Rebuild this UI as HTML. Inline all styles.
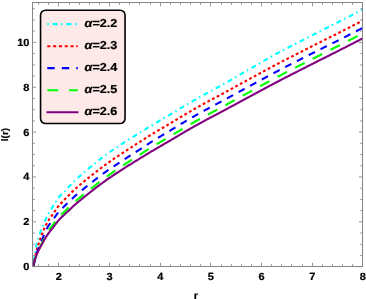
<!DOCTYPE html>
<html><head><meta charset="utf-8"><title>l(r)</title>
<style>html,body{margin:0;padding:0;background:#fff;width:366px;height:299px;overflow:hidden;font-family:"Liberation Sans",sans-serif}</style>
</head><body>
<svg width="366" height="299" viewBox="0 0 366 299" style="position:absolute;left:0;top:0">
<rect width="366" height="299" fill="#fff"/>
<defs><clipPath id="c"><rect x="32.5" y="2.5" width="330.6" height="264.0"/></clipPath></defs>
<g clip-path="url(#c)" fill="none" stroke-width="2.1">
<path d="M33.30 266.40 L33.39 265.66 L33.48 264.92 L33.57 264.18 L33.66 263.44 L33.75 262.71 L33.84 261.97 L33.93 261.25 L34.01 260.53 L34.10 259.81 L34.28 258.40 L34.46 257.01 L34.64 255.66 L34.82 254.34 L35.00 253.06 L35.18 251.83 L35.35 250.65 L35.53 249.53 L35.71 248.47 L35.89 247.47 L36.07 246.53 L36.25 245.68 L36.43 244.89 L36.60 244.14 L36.78 243.42 L36.96 242.72 L37.14 242.03 L37.32 241.37 L37.50 240.72 L37.68 240.09 L37.94 239.18 L38.21 238.30 L38.48 237.45 L38.75 236.63 L39.02 235.83 L39.28 235.05 L39.55 234.28 L39.82 233.54 L40.09 232.80 L40.35 232.07 L40.62 231.35 L40.89 230.64 L41.16 229.94 L41.43 229.25 L41.69 228.56 L41.96 227.89 L42.23 227.22 L42.50 226.56 L42.77 225.90 L43.03 225.25 L43.30 224.61 L43.57 223.97 L43.84 223.34 L44.11 222.72 L44.37 222.10 L44.64 221.49 L44.91 220.89 L45.18 220.29 L45.44 219.70 L45.71 219.12 L45.98 218.55 L46.25 217.98 L46.52 217.42 L46.78 216.87 L47.05 216.33 L47.32 215.80 L47.68 215.10 L48.03 214.41 L48.39 213.74 L48.75 213.10 L49.11 212.46 L49.46 211.85 L49.82 211.25 L50.18 210.66 L50.53 210.09 L50.89 209.52 L51.25 208.96 L51.61 208.40 L51.96 207.85 L52.32 207.30 L52.68 206.75 L53.03 206.20 L53.39 205.65 L53.75 205.09 L54.11 204.52 L54.46 203.95 L54.82 203.38 L55.18 202.80 L55.54 202.23 L55.89 201.66 L56.25 201.09 L56.61 200.53 L56.96 199.98 L57.32 199.45 L57.68 198.93 L58.04 198.42 L58.39 197.93 L58.75 197.47 L59.11 197.02 L59.55 196.49 L60.00 195.98 L60.76 195.14 L61.52 194.34 L62.29 193.56 L63.05 192.79 L63.81 192.02 L64.57 191.25 L65.33 190.46 L66.10 189.67 L66.86 188.87 L67.62 188.08 L68.38 187.28 L69.14 186.49 L69.90 185.70 L70.67 184.91 L71.43 184.13 L72.19 183.35 L72.95 182.58 L73.71 181.83 L74.48 181.08 L75.24 180.34 L76.00 179.61 L76.76 178.90 L77.52 178.19 L78.29 177.49 L79.05 176.80 L79.81 176.12 L80.57 175.44 L81.33 174.77 L82.10 174.11 L82.86 173.45 L83.62 172.80 L84.38 172.14 L85.14 171.49 L85.90 170.85 L86.67 170.20 L87.43 169.56 L88.19 168.91 L88.95 168.27 L89.71 167.63 L90.48 166.99 L91.24 166.36 L92.00 165.72 L92.76 165.10 L93.52 164.47 L94.29 163.85 L95.05 163.23 L95.81 162.61 L96.57 162.00 L97.33 161.39 L98.10 160.79 L98.86 160.19 L99.62 159.59 L100.38 159.00 L101.14 158.42 L101.90 157.83 L102.67 157.25 L103.43 156.68 L104.19 156.11 L104.95 155.54 L105.71 154.98 L106.48 154.42 L107.24 153.87 L108.00 153.32 L108.76 152.77 L109.52 152.23 L110.29 151.70 L111.05 151.17 L111.81 150.65 L112.57 150.13 L113.33 149.62 L114.10 149.11 L114.86 148.60 L115.62 148.09 L116.38 147.59 L117.14 147.09 L117.90 146.59 L118.67 146.09 L119.43 145.59 L120.19 145.10 L120.95 144.60 L121.71 144.11 L122.48 143.62 L123.24 143.13 L124.00 142.65 L124.76 142.16 L125.52 141.68 L126.29 141.19 L127.05 140.71 L127.81 140.23 L128.57 139.74 L129.33 139.26 L130.10 138.78 L130.86 138.30 L131.62 137.83 L132.38 137.35 L133.14 136.87 L133.90 136.40 L134.67 135.92 L135.43 135.44 L136.19 134.97 L136.95 134.50 L137.71 134.02 L138.48 133.55 L139.24 133.08 L140.00 132.61 L140.76 132.14 L141.52 131.66 L142.29 131.19 L143.05 130.72 L143.81 130.25 L144.57 129.78 L145.33 129.31 L146.10 128.84 L146.86 128.38 L147.62 127.91 L148.38 127.44 L149.14 126.98 L149.90 126.52 L150.67 126.05 L151.43 125.59 L152.19 125.14 L152.95 124.68 L153.71 124.23 L154.48 123.77 L155.24 123.32 L156.00 122.87 L156.76 122.42 L157.52 121.98 L158.29 121.53 L159.05 121.08 L159.81 120.64 L160.57 120.19 L161.33 119.75 L162.10 119.30 L162.86 118.86 L163.62 118.41 L164.38 117.97 L165.14 117.52 L165.90 117.08 L166.67 116.63 L167.43 116.18 L168.19 115.73 L168.95 115.28 L169.71 114.82 L170.48 114.37 L171.24 113.91 L172.00 113.46 L172.76 113.00 L173.52 112.54 L174.29 112.09 L175.05 111.63 L175.81 111.17 L176.57 110.71 L177.33 110.25 L178.10 109.79 L178.86 109.33 L179.62 108.87 L180.38 108.42 L181.14 107.96 L181.90 107.50 L182.67 107.04 L183.43 106.59 L184.19 106.13 L184.95 105.68 L185.71 105.22 L186.48 104.77 L187.24 104.32 L188.00 103.87 L188.76 103.42 L189.52 102.98 L190.29 102.53 L191.05 102.09 L191.81 101.65 L192.57 101.21 L193.33 100.77 L194.10 100.34 L194.86 99.90 L195.62 99.47 L196.38 99.04 L197.14 98.61 L197.90 98.18 L198.67 97.75 L199.43 97.32 L200.19 96.89 L200.95 96.47 L201.71 96.04 L202.48 95.62 L203.24 95.19 L204.00 94.77 L204.76 94.35 L205.52 93.93 L206.29 93.51 L207.05 93.09 L207.81 92.67 L208.57 92.25 L209.33 91.84 L210.10 91.43 L210.86 91.01 L211.62 90.60 L212.38 90.20 L213.14 89.79 L213.90 89.38 L214.67 88.97 L215.43 88.57 L216.19 88.16 L216.95 87.75 L217.71 87.34 L218.48 86.93 L219.24 86.52 L220.00 86.10 L220.76 85.68 L221.52 85.26 L222.29 84.84 L223.05 84.42 L223.81 83.99 L224.57 83.57 L225.33 83.14 L226.10 82.71 L226.86 82.28 L227.62 81.85 L228.38 81.41 L229.14 80.98 L229.90 80.54 L230.67 80.10 L231.43 79.66 L232.19 79.22 L232.95 78.78 L233.71 78.34 L234.48 77.90 L235.24 77.46 L236.00 77.02 L236.76 76.57 L237.52 76.13 L238.29 75.68 L239.05 75.24 L239.81 74.79 L240.57 74.35 L241.33 73.90 L242.10 73.45 L242.86 73.01 L243.62 72.56 L244.38 72.12 L245.14 71.67 L245.90 71.22 L246.67 70.78 L247.43 70.33 L248.19 69.89 L248.95 69.45 L249.71 69.00 L250.48 68.56 L251.24 68.12 L252.00 67.67 L252.76 67.23 L253.52 66.79 L254.29 66.35 L255.05 65.90 L255.81 65.46 L256.57 65.02 L257.33 64.58 L258.10 64.14 L258.86 63.70 L259.62 63.26 L260.38 62.82 L261.14 62.38 L261.90 61.94 L262.67 61.50 L263.43 61.07 L264.19 60.63 L264.95 60.20 L265.71 59.76 L266.48 59.33 L267.24 58.90 L268.00 58.47 L268.76 58.04 L269.52 57.61 L270.29 57.19 L271.05 56.76 L271.81 56.34 L272.57 55.92 L273.33 55.50 L274.10 55.08 L274.86 54.66 L275.62 54.25 L276.38 53.84 L277.14 53.42 L277.90 53.01 L278.67 52.61 L279.43 52.20 L280.19 51.80 L280.95 51.40 L281.71 51.00 L282.48 50.60 L283.24 50.20 L284.00 49.80 L284.76 49.40 L285.52 49.00 L286.29 48.60 L287.05 48.21 L287.81 47.81 L288.57 47.42 L289.33 47.02 L290.10 46.63 L290.86 46.23 L291.62 45.84 L292.38 45.45 L293.14 45.05 L293.90 44.66 L294.67 44.27 L295.43 43.88 L296.19 43.49 L296.95 43.10 L297.71 42.71 L298.48 42.32 L299.24 41.93 L300.00 41.54 L300.76 41.15 L301.52 40.76 L302.29 40.37 L303.05 39.98 L303.81 39.59 L304.57 39.20 L305.33 38.81 L306.10 38.42 L306.86 38.03 L307.62 37.64 L308.38 37.25 L309.14 36.86 L309.90 36.48 L310.67 36.09 L311.43 35.70 L312.19 35.31 L312.95 34.92 L313.71 34.53 L314.48 34.15 L315.24 33.76 L316.00 33.37 L316.76 32.98 L317.52 32.60 L318.29 32.21 L319.05 31.83 L319.81 31.44 L320.57 31.06 L321.33 30.67 L322.10 30.29 L322.86 29.90 L323.62 29.52 L324.38 29.13 L325.14 28.75 L325.90 28.36 L326.67 27.98 L327.43 27.59 L328.19 27.21 L328.95 26.82 L329.71 26.44 L330.48 26.05 L331.24 25.67 L332.00 25.28 L332.76 24.90 L333.52 24.51 L334.29 24.13 L335.05 23.74 L335.81 23.35 L336.57 22.97 L337.33 22.58 L338.10 22.19 L338.86 21.81 L339.62 21.42 L340.38 21.03 L341.14 20.64 L341.90 20.25 L342.67 19.86 L343.43 19.48 L344.19 19.09 L344.95 18.70 L345.71 18.31 L346.48 17.92 L347.24 17.53 L348.00 17.14 L348.76 16.75 L349.52 16.36 L350.29 15.97 L351.05 15.58 L351.81 15.19 L352.57 14.79 L353.33 14.40 L354.10 14.01 L354.86 13.62 L355.62 13.23 L356.38 12.84 L357.14 12.45 L357.90 12.06 L358.67 11.67 L359.43 11.28 L360.19 10.89 L360.95 10.49 L361.71 10.10 L362.48 9.71 L363.24 9.32 L364.00 8.93 L364.00 8.93" stroke="#00ffff" stroke-dasharray="1.5 3.8 5 3.45" stroke-dashoffset="0"/>
<path d="M33.30 266.40 L33.48 265.40 L33.66 264.42 L33.84 263.44 L34.01 262.48 L34.19 261.53 L34.37 260.59 L34.55 259.67 L34.73 258.76 L34.91 257.88 L35.09 257.01 L35.26 256.16 L35.44 255.33 L35.62 254.52 L35.80 253.74 L35.98 252.98 L36.16 252.25 L36.34 251.54 L36.51 250.85 L36.69 250.18 L36.87 249.52 L37.05 248.88 L37.23 248.26 L37.50 247.35 L37.76 246.47 L38.03 245.61 L38.30 244.79 L38.57 243.98 L38.84 243.19 L39.10 242.40 L39.37 241.62 L39.64 240.85 L39.91 240.08 L40.18 239.31 L40.44 238.54 L40.71 237.77 L40.98 237.02 L41.25 236.26 L41.52 235.52 L41.78 234.79 L42.05 234.06 L42.32 233.35 L42.59 232.64 L42.85 231.95 L43.12 231.27 L43.39 230.60 L43.66 229.94 L43.93 229.30 L44.19 228.67 L44.46 228.05 L44.73 227.46 L45.00 226.87 L45.27 226.31 L45.53 225.76 L45.89 225.06 L46.25 224.39 L46.61 223.73 L46.96 223.08 L47.32 222.45 L47.68 221.83 L48.03 221.22 L48.39 220.63 L48.75 220.06 L49.11 219.50 L49.46 218.96 L49.82 218.43 L50.18 217.91 L50.53 217.40 L50.89 216.90 L51.25 216.40 L51.61 215.91 L51.96 215.42 L52.32 214.92 L52.68 214.43 L53.03 213.93 L53.39 213.42 L53.75 212.91 L54.11 212.39 L54.46 211.87 L54.82 211.33 L55.18 210.80 L55.54 210.27 L55.89 209.74 L56.25 209.21 L56.61 208.69 L56.96 208.17 L57.32 207.66 L57.68 207.17 L58.04 206.69 L58.39 206.23 L58.75 205.78 L59.20 205.24 L59.64 204.72 L60.76 203.49 L61.52 202.69 L62.29 201.91 L63.05 201.14 L63.81 200.38 L64.57 199.61 L65.33 198.83 L66.10 198.04 L66.86 197.26 L67.62 196.47 L68.38 195.69 L69.14 194.91 L69.90 194.13 L70.67 193.37 L71.43 192.61 L72.19 191.85 L72.95 191.11 L73.71 190.38 L74.48 189.67 L75.24 188.96 L76.00 188.27 L76.76 187.60 L77.52 186.93 L78.29 186.26 L79.05 185.61 L79.81 184.96 L80.57 184.32 L81.33 183.69 L82.10 183.05 L82.86 182.43 L83.62 181.81 L84.38 181.19 L85.14 180.57 L85.90 179.95 L86.67 179.34 L87.43 178.72 L88.19 178.11 L88.95 177.49 L89.71 176.88 L90.48 176.27 L91.24 175.66 L92.00 175.05 L92.76 174.45 L93.52 173.84 L94.29 173.24 L95.05 172.65 L95.81 172.05 L96.57 171.46 L97.33 170.87 L98.10 170.28 L98.86 169.70 L99.62 169.12 L100.38 168.54 L101.14 167.97 L101.90 167.40 L102.67 166.83 L103.43 166.26 L104.19 165.70 L104.95 165.14 L105.71 164.58 L106.48 164.02 L107.24 163.47 L108.00 162.92 L108.76 162.38 L109.52 161.84 L110.29 161.30 L111.05 160.77 L111.81 160.24 L112.57 159.71 L113.33 159.19 L114.10 158.68 L114.86 158.16 L115.62 157.65 L116.38 157.14 L117.14 156.63 L117.90 156.11 L118.67 155.61 L119.43 155.10 L120.19 154.59 L120.95 154.09 L121.71 153.58 L122.48 153.08 L123.24 152.58 L124.00 152.08 L124.76 151.59 L125.52 151.09 L126.29 150.59 L127.05 150.09 L127.81 149.60 L128.57 149.10 L129.33 148.61 L130.10 148.12 L130.86 147.62 L131.62 147.13 L132.38 146.64 L133.14 146.15 L133.90 145.66 L134.67 145.17 L135.43 144.68 L136.19 144.19 L136.95 143.70 L137.71 143.22 L138.48 142.73 L139.24 142.24 L140.00 141.76 L140.76 141.27 L141.52 140.79 L142.29 140.30 L143.05 139.82 L143.81 139.34 L144.57 138.85 L145.33 138.37 L146.10 137.89 L146.86 137.41 L147.62 136.93 L148.38 136.46 L149.14 135.98 L149.90 135.51 L150.67 135.04 L151.43 134.57 L152.19 134.10 L152.95 133.64 L153.71 133.17 L154.48 132.71 L155.24 132.26 L156.00 131.80 L156.76 131.34 L157.52 130.89 L158.29 130.44 L159.05 129.99 L159.81 129.54 L160.57 129.09 L161.33 128.64 L162.10 128.20 L162.86 127.75 L163.62 127.30 L164.38 126.85 L165.14 126.40 L165.90 125.95 L166.67 125.50 L167.43 125.05 L168.19 124.60 L168.95 124.14 L169.71 123.69 L170.48 123.23 L171.24 122.77 L172.00 122.32 L172.76 121.86 L173.52 121.40 L174.29 120.94 L175.05 120.48 L175.81 120.02 L176.57 119.56 L177.33 119.10 L178.10 118.64 L178.86 118.18 L179.62 117.72 L180.38 117.26 L181.14 116.80 L181.90 116.34 L182.67 115.89 L183.43 115.43 L184.19 114.98 L184.95 114.52 L185.71 114.07 L186.48 113.62 L187.24 113.17 L188.00 112.72 L188.76 112.27 L189.52 111.83 L190.29 111.38 L191.05 110.94 L191.81 110.50 L192.57 110.06 L193.33 109.63 L194.10 109.19 L194.86 108.76 L195.62 108.33 L196.38 107.90 L197.14 107.47 L197.90 107.04 L198.67 106.62 L199.43 106.19 L200.19 105.77 L200.95 105.34 L201.71 104.92 L202.48 104.50 L203.24 104.08 L204.00 103.66 L204.76 103.24 L205.52 102.83 L206.29 102.41 L207.05 102.00 L207.81 101.58 L208.57 101.17 L209.33 100.76 L210.10 100.35 L210.86 99.94 L211.62 99.54 L212.38 99.13 L213.14 98.73 L213.90 98.33 L214.67 97.93 L215.43 97.53 L216.19 97.13 L216.95 96.72 L217.71 96.32 L218.48 95.91 L219.24 95.51 L220.00 95.10 L220.76 94.69 L221.52 94.28 L222.29 93.87 L223.05 93.46 L223.81 93.04 L224.57 92.63 L225.33 92.21 L226.10 91.80 L226.86 91.38 L227.62 90.97 L228.38 90.55 L229.14 90.13 L229.90 89.72 L230.67 89.30 L231.43 88.88 L232.19 88.46 L232.95 88.05 L233.71 87.63 L234.48 87.21 L235.24 86.79 L236.00 86.37 L236.76 85.95 L237.52 85.53 L238.29 85.11 L239.05 84.69 L239.81 84.28 L240.57 83.86 L241.33 83.44 L242.10 83.02 L242.86 82.60 L243.62 82.18 L244.38 81.77 L245.14 81.35 L245.90 80.93 L246.67 80.52 L247.43 80.10 L248.19 79.69 L248.95 79.27 L249.71 78.86 L250.48 78.44 L251.24 78.03 L252.00 77.62 L252.76 77.20 L253.52 76.79 L254.29 76.38 L255.05 75.96 L255.81 75.55 L256.57 75.14 L257.33 74.72 L258.10 74.31 L258.86 73.89 L259.62 73.48 L260.38 73.07 L261.14 72.66 L261.90 72.24 L262.67 71.83 L263.43 71.42 L264.19 71.01 L264.95 70.60 L265.71 70.19 L266.48 69.78 L267.24 69.37 L268.00 68.96 L268.76 68.55 L269.52 68.14 L270.29 67.73 L271.05 67.33 L271.81 66.92 L272.57 66.51 L273.33 66.11 L274.10 65.71 L274.86 65.30 L275.62 64.90 L276.38 64.50 L277.14 64.10 L277.90 63.70 L278.67 63.30 L279.43 62.90 L280.19 62.50 L280.95 62.10 L281.71 61.71 L282.48 61.31 L283.24 60.92 L284.00 60.52 L284.76 60.13 L285.52 59.74 L286.29 59.35 L287.05 58.95 L287.81 58.56 L288.57 58.17 L289.33 57.78 L290.10 57.39 L290.86 57.00 L291.62 56.62 L292.38 56.23 L293.14 55.84 L293.90 55.45 L294.67 55.06 L295.43 54.68 L296.19 54.29 L296.95 53.90 L297.71 53.52 L298.48 53.13 L299.24 52.75 L300.00 52.36 L300.76 51.97 L301.52 51.59 L302.29 51.20 L303.05 50.82 L303.81 50.43 L304.57 50.05 L305.33 49.66 L306.10 49.28 L306.86 48.89 L307.62 48.51 L308.38 48.12 L309.14 47.73 L309.90 47.35 L310.67 46.96 L311.43 46.58 L312.19 46.19 L312.95 45.81 L313.71 45.42 L314.48 45.04 L315.24 44.65 L316.00 44.27 L316.76 43.89 L317.52 43.50 L318.29 43.12 L319.05 42.74 L319.81 42.36 L320.57 41.97 L321.33 41.59 L322.10 41.21 L322.86 40.83 L323.62 40.45 L324.38 40.06 L325.14 39.68 L325.90 39.30 L326.67 38.92 L327.43 38.53 L328.19 38.15 L328.95 37.77 L329.71 37.39 L330.48 37.00 L331.24 36.62 L332.00 36.24 L332.76 35.86 L333.52 35.47 L334.29 35.09 L335.05 34.70 L335.81 34.32 L336.57 33.94 L337.33 33.55 L338.10 33.17 L338.86 32.78 L339.62 32.39 L340.38 32.01 L341.14 31.62 L341.90 31.23 L342.67 30.85 L343.43 30.46 L344.19 30.07 L344.95 29.68 L345.71 29.29 L346.48 28.90 L347.24 28.52 L348.00 28.13 L348.76 27.74 L349.52 27.35 L350.29 26.96 L351.05 26.57 L351.81 26.18 L352.57 25.79 L353.33 25.40 L354.10 25.01 L354.86 24.62 L355.62 24.23 L356.38 23.84 L357.14 23.45 L357.90 23.06 L358.67 22.67 L359.43 22.28 L360.19 21.88 L360.95 21.49 L361.71 21.10 L362.48 20.71 L363.24 20.32 L364.00 19.93 L364.00 19.93" stroke="#ff0000" stroke-dasharray="2.8 2.48" stroke-dashoffset="4.68"/>
<path d="M33.30 266.40 L33.48 265.60 L33.66 264.81 L33.84 264.02 L34.01 263.24 L34.19 262.48 L34.37 261.73 L34.55 260.99 L34.73 260.26 L34.91 259.55 L35.09 258.85 L35.26 258.17 L35.44 257.51 L35.62 256.86 L35.80 256.24 L36.07 255.34 L36.34 254.49 L36.60 253.68 L36.87 252.90 L37.14 252.13 L37.41 251.40 L37.68 250.68 L37.94 249.98 L38.21 249.30 L38.48 248.63 L38.75 247.97 L39.02 247.32 L39.28 246.67 L39.55 246.04 L39.82 245.40 L40.09 244.76 L40.35 244.11 L40.62 243.45 L40.89 242.79 L41.16 242.12 L41.43 241.45 L41.69 240.78 L41.96 240.11 L42.23 239.43 L42.50 238.76 L42.77 238.09 L43.03 237.42 L43.30 236.75 L43.57 236.09 L43.84 235.44 L44.11 234.78 L44.37 234.14 L44.64 233.51 L44.91 232.88 L45.18 232.26 L45.44 231.66 L45.71 231.06 L45.98 230.48 L46.25 229.91 L46.52 229.36 L46.78 228.82 L47.14 228.12 L47.50 227.46 L47.86 226.83 L48.21 226.24 L48.57 225.69 L48.93 225.16 L49.28 224.65 L49.64 224.14 L50.00 223.65 L50.36 223.17 L50.71 222.69 L51.07 222.22 L51.43 221.75 L51.78 221.28 L52.14 220.82 L52.50 220.35 L52.86 219.87 L53.21 219.39 L53.57 218.90 L53.93 218.41 L54.28 217.90 L54.64 217.39 L55.00 216.88 L55.36 216.37 L55.71 215.85 L56.07 215.34 L56.43 214.83 L56.79 214.33 L57.14 213.84 L57.50 213.36 L57.86 212.89 L58.21 212.43 L58.66 211.89 L59.11 211.37 L59.55 210.88 L60.00 210.40 L60.76 209.61 L61.52 208.86 L62.29 208.13 L63.05 207.42 L63.81 206.71 L64.57 206.00 L65.33 205.27 L66.10 204.54 L66.86 203.81 L67.62 203.07 L68.38 202.33 L69.14 201.60 L69.90 200.86 L70.67 200.13 L71.43 199.41 L72.19 198.69 L72.95 197.97 L73.71 197.27 L74.48 196.57 L75.24 195.89 L76.00 195.21 L76.76 194.54 L77.52 193.89 L78.29 193.24 L79.05 192.60 L79.81 191.96 L80.57 191.33 L81.33 190.71 L82.10 190.09 L82.86 189.47 L83.62 188.86 L84.38 188.24 L85.14 187.64 L85.90 187.03 L86.67 186.42 L87.43 185.81 L88.19 185.21 L88.95 184.60 L89.71 183.99 L90.48 183.39 L91.24 182.79 L92.00 182.18 L92.76 181.59 L93.52 180.99 L94.29 180.39 L95.05 179.80 L95.81 179.21 L96.57 178.63 L97.33 178.04 L98.10 177.46 L98.86 176.89 L99.62 176.31 L100.38 175.74 L101.14 175.18 L101.90 174.61 L102.67 174.05 L103.43 173.49 L104.19 172.93 L104.95 172.38 L105.71 171.83 L106.48 171.28 L107.24 170.74 L108.00 170.20 L108.76 169.66 L109.52 169.13 L110.29 168.60 L111.05 168.08 L111.81 167.56 L112.57 167.05 L113.33 166.54 L114.10 166.03 L114.86 165.53 L115.62 165.03 L116.38 164.53 L117.14 164.03 L117.90 163.53 L118.67 163.03 L119.43 162.53 L120.19 162.04 L120.95 161.55 L121.71 161.05 L122.48 160.56 L123.24 160.08 L124.00 159.59 L124.76 159.10 L125.52 158.61 L126.29 158.13 L127.05 157.64 L127.81 157.15 L128.57 156.67 L129.33 156.18 L130.10 155.69 L130.86 155.20 L131.62 154.71 L132.38 154.22 L133.14 153.72 L133.90 153.23 L134.67 152.74 L135.43 152.24 L136.19 151.75 L136.95 151.25 L137.71 150.76 L138.48 150.26 L139.24 149.76 L140.00 149.27 L140.76 148.77 L141.52 148.28 L142.29 147.78 L143.05 147.28 L143.81 146.78 L144.57 146.29 L145.33 145.79 L146.10 145.30 L146.86 144.80 L147.62 144.31 L148.38 143.82 L149.14 143.33 L149.90 142.84 L150.67 142.36 L151.43 141.88 L152.19 141.40 L152.95 140.92 L153.71 140.44 L154.48 139.97 L155.24 139.50 L156.00 139.04 L156.76 138.57 L157.52 138.11 L158.29 137.65 L159.05 137.20 L159.81 136.74 L160.57 136.29 L161.33 135.84 L162.10 135.38 L162.86 134.93 L163.62 134.48 L164.38 134.03 L165.14 133.57 L165.90 133.12 L166.67 132.67 L167.43 132.21 L168.19 131.75 L168.95 131.30 L169.71 130.84 L170.48 130.38 L171.24 129.92 L172.00 129.46 L172.76 128.99 L173.52 128.53 L174.29 128.07 L175.05 127.61 L175.81 127.15 L176.57 126.68 L177.33 126.22 L178.10 125.76 L178.86 125.30 L179.62 124.84 L180.38 124.37 L181.14 123.91 L181.90 123.46 L182.67 123.00 L183.43 122.54 L184.19 122.08 L184.95 121.63 L185.71 121.17 L186.48 120.72 L187.24 120.27 L188.00 119.82 L188.76 119.38 L189.52 118.93 L190.29 118.49 L191.05 118.05 L191.81 117.61 L192.57 117.17 L193.33 116.74 L194.10 116.30 L194.86 115.87 L195.62 115.44 L196.38 115.01 L197.14 114.58 L197.90 114.16 L198.67 113.73 L199.43 113.31 L200.19 112.88 L200.95 112.46 L201.71 112.04 L202.48 111.62 L203.24 111.20 L204.00 110.78 L204.76 110.37 L205.52 109.95 L206.29 109.53 L207.05 109.12 L207.81 108.71 L208.57 108.29 L209.33 107.88 L210.10 107.48 L210.86 107.07 L211.62 106.67 L212.38 106.26 L213.14 105.86 L213.90 105.46 L214.67 105.06 L215.43 104.66 L216.19 104.26 L216.95 103.86 L217.71 103.45 L218.48 103.05 L219.24 102.64 L220.00 102.24 L220.76 101.83 L221.52 101.42 L222.29 101.01 L223.05 100.59 L223.81 100.18 L224.57 99.77 L225.33 99.36 L226.10 98.94 L226.86 98.53 L227.62 98.11 L228.38 97.70 L229.14 97.28 L229.90 96.87 L230.67 96.45 L231.43 96.04 L232.19 95.62 L232.95 95.20 L233.71 94.79 L234.48 94.37 L235.24 93.95 L236.00 93.53 L236.76 93.12 L237.52 92.70 L238.29 92.28 L239.05 91.86 L239.81 91.45 L240.57 91.03 L241.33 90.61 L242.10 90.20 L242.86 89.78 L243.62 89.37 L244.38 88.95 L245.14 88.54 L245.90 88.12 L246.67 87.71 L247.43 87.29 L248.19 86.88 L248.95 86.47 L249.71 86.05 L250.48 85.64 L251.24 85.23 L252.00 84.82 L252.76 84.41 L253.52 83.99 L254.29 83.58 L255.05 83.17 L255.81 82.76 L256.57 82.34 L257.33 81.93 L258.10 81.52 L258.86 81.11 L259.62 80.70 L260.38 80.28 L261.14 79.87 L261.90 79.46 L262.67 79.05 L263.43 78.64 L264.19 78.23 L264.95 77.82 L265.71 77.41 L266.48 77.00 L267.24 76.59 L268.00 76.18 L268.76 75.77 L269.52 75.36 L270.29 74.96 L271.05 74.55 L271.81 74.14 L272.57 73.74 L273.33 73.33 L274.10 72.93 L274.86 72.52 L275.62 72.12 L276.38 71.72 L277.14 71.32 L277.90 70.92 L278.67 70.52 L279.43 70.12 L280.19 69.72 L280.95 69.32 L281.71 68.92 L282.48 68.53 L283.24 68.13 L284.00 67.74 L284.76 67.34 L285.52 66.95 L286.29 66.55 L287.05 66.16 L287.81 65.77 L288.57 65.38 L289.33 64.99 L290.10 64.60 L290.86 64.21 L291.62 63.82 L292.38 63.43 L293.14 63.04 L293.90 62.65 L294.67 62.27 L295.43 61.88 L296.19 61.49 L296.95 61.10 L297.71 60.72 L298.48 60.33 L299.24 59.95 L300.00 59.56 L300.76 59.17 L301.52 58.79 L302.29 58.40 L303.05 58.02 L303.81 57.63 L304.57 57.25 L305.33 56.86 L306.10 56.48 L306.86 56.09 L307.62 55.71 L308.38 55.32 L309.14 54.94 L309.90 54.55 L310.67 54.17 L311.43 53.78 L312.19 53.40 L312.95 53.02 L313.71 52.63 L314.48 52.25 L315.24 51.87 L316.00 51.48 L316.76 51.10 L317.52 50.72 L318.29 50.34 L319.05 49.96 L319.81 49.58 L320.57 49.20 L321.33 48.81 L322.10 48.43 L322.86 48.05 L323.62 47.67 L324.38 47.29 L325.14 46.91 L325.90 46.53 L326.67 46.15 L327.43 45.77 L328.19 45.39 L328.95 45.01 L329.71 44.63 L330.48 44.25 L331.24 43.87 L332.00 43.49 L332.76 43.11 L333.52 42.73 L334.29 42.35 L335.05 41.96 L335.81 41.58 L336.57 41.20 L337.33 40.82 L338.10 40.44 L338.86 40.05 L339.62 39.67 L340.38 39.29 L341.14 38.90 L341.90 38.52 L342.67 38.13 L343.43 37.75 L344.19 37.36 L344.95 36.98 L345.71 36.59 L346.48 36.21 L347.24 35.82 L348.00 35.44 L348.76 35.05 L349.52 34.67 L350.29 34.28 L351.05 33.89 L351.81 33.51 L352.57 33.12 L353.33 32.73 L354.10 32.35 L354.86 31.96 L355.62 31.57 L356.38 31.19 L357.14 30.80 L357.90 30.41 L358.67 30.03 L359.43 29.64 L360.19 29.25 L360.95 28.87 L361.71 28.48 L362.48 28.09 L363.24 27.71 L364.00 27.32 L364.00 27.32" stroke="#0000ff" stroke-dasharray="7.0 6.22" stroke-dashoffset="0"/>
<path d="M33.30 266.40 L33.48 265.65 L33.66 264.91 L33.84 264.18 L34.01 263.46 L34.19 262.75 L34.37 262.05 L34.55 261.36 L34.73 260.69 L34.91 260.03 L35.09 259.39 L35.26 258.76 L35.53 257.86 L35.80 257.00 L36.07 256.19 L36.34 255.42 L36.60 254.69 L36.87 253.99 L37.14 253.32 L37.41 252.67 L37.68 252.03 L37.94 251.42 L38.21 250.83 L38.48 250.25 L38.75 249.68 L39.02 249.12 L39.28 248.56 L39.55 248.01 L39.82 247.47 L40.09 246.92 L40.35 246.37 L40.62 245.82 L40.89 245.28 L41.16 244.73 L41.43 244.19 L41.69 243.64 L41.96 243.10 L42.23 242.55 L42.50 242.01 L42.77 241.46 L43.03 240.92 L43.30 240.38 L43.57 239.85 L43.84 239.31 L44.19 238.60 L44.55 237.90 L44.91 237.21 L45.27 236.52 L45.62 235.84 L45.98 235.17 L46.34 234.51 L46.69 233.86 L47.05 233.23 L47.41 232.61 L47.77 232.00 L48.12 231.40 L48.48 230.83 L48.84 230.27 L49.19 229.74 L49.55 229.22 L49.91 228.72 L50.27 228.24 L50.62 227.77 L50.98 227.31 L51.34 226.86 L51.70 226.41 L52.05 225.97 L52.41 225.52 L52.77 225.06 L53.12 224.60 L53.48 224.14 L53.84 223.66 L54.20 223.17 L54.55 222.68 L54.91 222.19 L55.27 221.69 L55.62 221.19 L55.98 220.69 L56.34 220.20 L56.70 219.71 L57.05 219.23 L57.41 218.76 L57.77 218.30 L58.12 217.85 L58.57 217.32 L59.02 216.82 L59.46 216.33 L59.91 215.87 L60.76 215.02 L61.52 214.29 L62.29 213.59 L63.05 212.89 L63.81 212.20 L64.57 211.50 L65.33 210.78 L66.10 210.05 L66.86 209.32 L67.62 208.60 L68.38 207.87 L69.14 207.14 L69.90 206.41 L70.67 205.69 L71.43 204.97 L72.19 204.25 L72.95 203.54 L73.71 202.84 L74.48 202.15 L75.24 201.47 L76.00 200.80 L76.76 200.14 L77.52 199.49 L78.29 198.84 L79.05 198.20 L79.81 197.57 L80.57 196.94 L81.33 196.32 L82.10 195.71 L82.86 195.09 L83.62 194.48 L84.38 193.87 L85.14 193.27 L85.90 192.66 L86.67 192.06 L87.43 191.45 L88.19 190.85 L88.95 190.24 L89.71 189.64 L90.48 189.04 L91.24 188.44 L92.00 187.84 L92.76 187.24 L93.52 186.64 L94.29 186.05 L95.05 185.46 L95.81 184.86 L96.57 184.27 L97.33 183.68 L98.10 183.10 L98.86 182.52 L99.62 181.93 L100.38 181.36 L101.14 180.78 L101.90 180.21 L102.67 179.63 L103.43 179.06 L104.19 178.50 L104.95 177.93 L105.71 177.37 L106.48 176.81 L107.24 176.25 L108.00 175.70 L108.76 175.15 L109.52 174.61 L110.29 174.06 L111.05 173.53 L111.81 173.00 L112.57 172.47 L113.33 171.94 L114.10 171.42 L114.86 170.91 L115.62 170.39 L116.38 169.88 L117.14 169.36 L117.90 168.85 L118.67 168.34 L119.43 167.83 L120.19 167.32 L120.95 166.82 L121.71 166.32 L122.48 165.82 L123.24 165.32 L124.00 164.82 L124.76 164.32 L125.52 163.83 L126.29 163.33 L127.05 162.84 L127.81 162.35 L128.57 161.86 L129.33 161.36 L130.10 160.87 L130.86 160.38 L131.62 159.89 L132.38 159.40 L133.14 158.91 L133.90 158.42 L134.67 157.93 L135.43 157.45 L136.19 156.96 L136.95 156.47 L137.71 155.98 L138.48 155.50 L139.24 155.01 L140.00 154.53 L140.76 154.04 L141.52 153.56 L142.29 153.07 L143.05 152.59 L143.81 152.10 L144.57 151.62 L145.33 151.14 L146.10 150.66 L146.86 150.18 L147.62 149.70 L148.38 149.22 L149.14 148.75 L149.90 148.28 L150.67 147.81 L151.43 147.34 L152.19 146.87 L152.95 146.41 L153.71 145.95 L154.48 145.49 L155.24 145.03 L156.00 144.58 L156.76 144.13 L157.52 143.68 L158.29 143.23 L159.05 142.78 L159.81 142.34 L160.57 141.90 L161.33 141.45 L162.10 141.01 L162.86 140.57 L163.62 140.12 L164.38 139.68 L165.14 139.24 L165.90 138.79 L166.67 138.35 L167.43 137.90 L168.19 137.45 L168.95 137.01 L169.71 136.56 L170.48 136.11 L171.24 135.65 L172.00 135.20 L172.76 134.75 L173.52 134.30 L174.29 133.84 L175.05 133.39 L175.81 132.93 L176.57 132.48 L177.33 132.02 L178.10 131.57 L178.86 131.11 L179.62 130.66 L180.38 130.21 L181.14 129.75 L181.90 129.30 L182.67 128.85 L183.43 128.40 L184.19 127.94 L184.95 127.50 L185.71 127.05 L186.48 126.60 L187.24 126.15 L188.00 125.71 L188.76 125.26 L189.52 124.82 L190.29 124.38 L191.05 123.95 L191.81 123.51 L192.57 123.07 L193.33 122.64 L194.10 122.21 L194.86 121.78 L195.62 121.35 L196.38 120.92 L197.14 120.50 L197.90 120.07 L198.67 119.65 L199.43 119.22 L200.19 118.80 L200.95 118.38 L201.71 117.96 L202.48 117.54 L203.24 117.12 L204.00 116.70 L204.76 116.29 L205.52 115.87 L206.29 115.46 L207.05 115.04 L207.81 114.63 L208.57 114.22 L209.33 113.81 L210.10 113.40 L210.86 112.99 L211.62 112.59 L212.38 112.19 L213.14 111.78 L213.90 111.38 L214.67 110.98 L215.43 110.58 L216.19 110.18 L216.95 109.78 L217.71 109.37 L218.48 108.97 L219.24 108.56 L220.00 108.15 L220.76 107.74 L221.52 107.33 L222.29 106.92 L223.05 106.51 L223.81 106.10 L224.57 105.68 L225.33 105.27 L226.10 104.85 L226.86 104.44 L227.62 104.02 L228.38 103.61 L229.14 103.19 L229.90 102.77 L230.67 102.35 L231.43 101.94 L232.19 101.52 L232.95 101.10 L233.71 100.68 L234.48 100.26 L235.24 99.84 L236.00 99.42 L236.76 99.01 L237.52 98.59 L238.29 98.17 L239.05 97.75 L239.81 97.33 L240.57 96.91 L241.33 96.49 L242.10 96.07 L242.86 95.66 L243.62 95.24 L244.38 94.82 L245.14 94.40 L245.90 93.99 L246.67 93.57 L247.43 93.15 L248.19 92.74 L248.95 92.32 L249.71 91.91 L250.48 91.49 L251.24 91.08 L252.00 90.66 L252.76 90.25 L253.52 89.84 L254.29 89.42 L255.05 89.01 L255.81 88.59 L256.57 88.18 L257.33 87.76 L258.10 87.35 L258.86 86.93 L259.62 86.52 L260.38 86.10 L261.14 85.69 L261.90 85.28 L262.67 84.86 L263.43 84.45 L264.19 84.04 L264.95 83.62 L265.71 83.21 L266.48 82.80 L267.24 82.39 L268.00 81.98 L268.76 81.57 L269.52 81.16 L270.29 80.75 L271.05 80.34 L271.81 79.93 L272.57 79.52 L273.33 79.11 L274.10 78.70 L274.86 78.30 L275.62 77.89 L276.38 77.49 L277.14 77.08 L277.90 76.68 L278.67 76.28 L279.43 75.87 L280.19 75.47 L280.95 75.07 L281.71 74.67 L282.48 74.27 L283.24 73.88 L284.00 73.48 L284.76 73.08 L285.52 72.69 L286.29 72.29 L287.05 71.90 L287.81 71.50 L288.57 71.11 L289.33 70.72 L290.10 70.32 L290.86 69.93 L291.62 69.54 L292.38 69.15 L293.14 68.76 L293.90 68.37 L294.67 67.98 L295.43 67.59 L296.19 67.20 L296.95 66.81 L297.71 66.42 L298.48 66.04 L299.24 65.65 L300.00 65.26 L300.76 64.87 L301.52 64.49 L302.29 64.10 L303.05 63.71 L303.81 63.32 L304.57 62.94 L305.33 62.55 L306.10 62.16 L306.86 61.78 L307.62 61.39 L308.38 61.00 L309.14 60.61 L309.90 60.23 L310.67 59.84 L311.43 59.45 L312.19 59.06 L312.95 58.68 L313.71 58.29 L314.48 57.91 L315.24 57.52 L316.00 57.14 L316.76 56.75 L317.52 56.37 L318.29 55.98 L319.05 55.60 L319.81 55.21 L320.57 54.83 L321.33 54.44 L322.10 54.06 L322.86 53.68 L323.62 53.29 L324.38 52.91 L325.14 52.53 L325.90 52.14 L326.67 51.76 L327.43 51.38 L328.19 50.99 L328.95 50.61 L329.71 50.22 L330.48 49.84 L331.24 49.46 L332.00 49.07 L332.76 48.69 L333.52 48.30 L334.29 47.92 L335.05 47.53 L335.81 47.15 L336.57 46.76 L337.33 46.37 L338.10 45.99 L338.86 45.60 L339.62 45.21 L340.38 44.83 L341.14 44.44 L341.90 44.05 L342.67 43.66 L343.43 43.27 L344.19 42.88 L344.95 42.50 L345.71 42.11 L346.48 41.72 L347.24 41.33 L348.00 40.94 L348.76 40.55 L349.52 40.16 L350.29 39.77 L351.05 39.38 L351.81 38.99 L352.57 38.60 L353.33 38.20 L354.10 37.81 L354.86 37.42 L355.62 37.03 L356.38 36.64 L357.14 36.25 L357.90 35.86 L358.67 35.47 L359.43 35.08 L360.19 34.69 L360.95 34.29 L361.71 33.90 L362.48 33.51 L363.24 33.12 L364.00 32.73 L364.00 32.73" stroke="#00ff00" stroke-dasharray="10.6 9.2" stroke-dashoffset="0"/>
<path d="M33.30 266.40 L33.48 265.66 L33.66 264.93 L33.84 264.21 L34.01 263.51 L34.19 262.81 L34.37 262.12 L34.55 261.45 L34.73 260.79 L34.91 260.15 L35.09 259.52 L35.35 258.61 L35.62 257.75 L35.89 256.93 L36.16 256.15 L36.43 255.43 L36.69 254.74 L36.96 254.07 L37.23 253.44 L37.50 252.82 L37.76 252.23 L38.03 251.65 L38.30 251.09 L38.57 250.54 L38.84 250.01 L39.19 249.31 L39.55 248.62 L39.91 247.94 L40.27 247.26 L40.62 246.57 L40.98 245.89 L41.34 245.22 L41.69 244.55 L42.05 243.89 L42.41 243.23 L42.77 242.58 L43.12 241.94 L43.48 241.30 L43.84 240.68 L44.19 240.06 L44.55 239.45 L44.91 238.84 L45.27 238.25 L45.62 237.66 L45.98 237.08 L46.34 236.52 L46.69 235.96 L47.05 235.41 L47.41 234.87 L47.77 234.34 L48.12 233.82 L48.48 233.32 L48.84 232.83 L49.19 232.35 L49.55 231.89 L49.91 231.43 L50.27 230.99 L50.71 230.44 L51.16 229.89 L51.61 229.35 L52.05 228.81 L52.50 228.26 L52.86 227.82 L53.21 227.37 L53.57 226.91 L53.93 226.44 L54.28 225.96 L54.64 225.48 L55.00 224.99 L55.36 224.50 L55.71 224.01 L56.07 223.52 L56.43 223.04 L56.79 222.56 L57.14 222.09 L57.50 221.62 L57.86 221.17 L58.30 220.63 L58.75 220.11 L59.20 219.62 L59.64 219.15 L60.76 218.02 L61.52 217.29 L62.29 216.59 L63.05 215.89 L63.81 215.20 L64.57 214.50 L65.33 213.78 L66.10 213.05 L66.86 212.32 L67.62 211.60 L68.38 210.87 L69.14 210.14 L69.90 209.41 L70.67 208.69 L71.43 207.97 L72.19 207.25 L72.95 206.54 L73.71 205.84 L74.48 205.15 L75.24 204.47 L76.00 203.80 L76.76 203.14 L77.52 202.49 L78.29 201.84 L79.05 201.20 L79.81 200.57 L80.57 199.94 L81.33 199.32 L82.10 198.71 L82.86 198.09 L83.62 197.48 L84.38 196.87 L85.14 196.27 L85.90 195.66 L86.67 195.06 L87.43 194.45 L88.19 193.85 L88.95 193.24 L89.71 192.64 L90.48 192.04 L91.24 191.44 L92.00 190.84 L92.76 190.24 L93.52 189.65 L94.29 189.05 L95.05 188.46 L95.81 187.88 L96.57 187.29 L97.33 186.71 L98.10 186.13 L98.86 185.56 L99.62 184.98 L100.38 184.42 L101.14 183.85 L101.90 183.29 L102.67 182.73 L103.43 182.17 L104.19 181.61 L104.95 181.06 L105.71 180.52 L106.48 179.97 L107.24 179.43 L108.00 178.89 L108.76 178.36 L109.52 177.83 L110.29 177.30 L111.05 176.78 L111.81 176.27 L112.57 175.76 L113.33 175.25 L114.10 174.75 L114.86 174.25 L115.62 173.75 L116.38 173.25 L117.14 172.76 L117.90 172.26 L118.67 171.77 L119.43 171.28 L120.19 170.79 L120.95 170.30 L121.71 169.81 L122.48 169.33 L123.24 168.84 L124.00 168.36 L124.76 167.88 L125.52 167.40 L126.29 166.92 L127.05 166.44 L127.81 165.96 L128.57 165.48 L129.33 165.01 L130.10 164.53 L130.86 164.06 L131.62 163.58 L132.38 163.11 L133.14 162.63 L133.90 162.16 L134.67 161.69 L135.43 161.22 L136.19 160.75 L136.95 160.28 L137.71 159.81 L138.48 159.34 L139.24 158.87 L140.00 158.40 L140.76 157.93 L141.52 157.46 L142.29 157.00 L143.05 156.53 L143.81 156.06 L144.57 155.59 L145.33 155.13 L146.10 154.66 L146.86 154.20 L147.62 153.74 L148.38 153.27 L149.14 152.81 L149.90 152.35 L150.67 151.90 L151.43 151.44 L152.19 150.99 L152.95 150.53 L153.71 150.09 L154.48 149.64 L155.24 149.19 L156.00 148.75 L156.76 148.30 L157.52 147.86 L158.29 147.42 L159.05 146.98 L159.81 146.54 L160.57 146.10 L161.33 145.66 L162.10 145.22 L162.86 144.78 L163.62 144.34 L164.38 143.90 L165.14 143.46 L165.90 143.02 L166.67 142.58 L167.43 142.13 L168.19 141.69 L168.95 141.24 L169.71 140.80 L170.48 140.35 L171.24 139.90 L172.00 139.45 L172.76 139.00 L173.52 138.55 L174.29 138.09 L175.05 137.64 L175.81 137.19 L176.57 136.74 L177.33 136.28 L178.10 135.83 L178.86 135.38 L179.62 134.92 L180.38 134.47 L181.14 134.02 L181.90 133.57 L182.67 133.12 L183.43 132.67 L184.19 132.22 L184.95 131.77 L185.71 131.33 L186.48 130.88 L187.24 130.44 L188.00 129.99 L188.76 129.55 L189.52 129.11 L190.29 128.68 L191.05 128.24 L191.81 127.81 L192.57 127.38 L193.33 126.95 L194.10 126.52 L194.86 126.09 L195.62 125.66 L196.38 125.24 L197.14 124.82 L197.90 124.39 L198.67 123.97 L199.43 123.55 L200.19 123.13 L200.95 122.72 L201.71 122.30 L202.48 121.89 L203.24 121.47 L204.00 121.06 L204.76 120.64 L205.52 120.23 L206.29 119.82 L207.05 119.41 L207.81 119.00 L208.57 118.59 L209.33 118.19 L210.10 117.79 L210.86 117.38 L211.62 116.98 L212.38 116.59 L213.14 116.19 L213.90 115.79 L214.67 115.40 L215.43 115.00 L216.19 114.60 L216.95 114.20 L217.71 113.81 L218.48 113.41 L219.24 113.00 L220.00 112.60 L220.76 112.19 L221.52 111.79 L222.29 111.38 L223.05 110.97 L223.81 110.57 L224.57 110.16 L225.33 109.75 L226.10 109.34 L226.86 108.93 L227.62 108.52 L228.38 108.11 L229.14 107.69 L229.90 107.28 L230.67 106.87 L231.43 106.46 L232.19 106.04 L232.95 105.63 L233.71 105.22 L234.48 104.80 L235.24 104.39 L236.00 103.98 L236.76 103.56 L237.52 103.15 L238.29 102.74 L239.05 102.32 L239.81 101.91 L240.57 101.49 L241.33 101.08 L242.10 100.67 L242.86 100.25 L243.62 99.84 L244.38 99.43 L245.14 99.02 L245.90 98.61 L246.67 98.19 L247.43 97.78 L248.19 97.37 L248.95 96.96 L249.71 96.55 L250.48 96.14 L251.24 95.74 L252.00 95.33 L252.76 94.92 L253.52 94.51 L254.29 94.10 L255.05 93.69 L255.81 93.28 L256.57 92.87 L257.33 92.46 L258.10 92.05 L258.86 91.64 L259.62 91.23 L260.38 90.82 L261.14 90.41 L261.90 90.00 L262.67 89.59 L263.43 89.18 L264.19 88.78 L264.95 88.37 L265.71 87.96 L266.48 87.55 L267.24 87.15 L268.00 86.74 L268.76 86.33 L269.52 85.93 L270.29 85.52 L271.05 85.12 L271.81 84.71 L272.57 84.31 L273.33 83.90 L274.10 83.50 L274.86 83.10 L275.62 82.70 L276.38 82.30 L277.14 81.90 L277.90 81.50 L278.67 81.10 L279.43 80.70 L280.19 80.30 L280.95 79.90 L281.71 79.51 L282.48 79.11 L283.24 78.72 L284.00 78.32 L284.76 77.93 L285.52 77.54 L286.29 77.15 L287.05 76.75 L287.81 76.36 L288.57 75.97 L289.33 75.58 L290.10 75.19 L290.86 74.80 L291.62 74.42 L292.38 74.03 L293.14 73.64 L293.90 73.25 L294.67 72.86 L295.43 72.48 L296.19 72.09 L296.95 71.70 L297.71 71.32 L298.48 70.93 L299.24 70.55 L300.00 70.16 L300.76 69.77 L301.52 69.39 L302.29 69.00 L303.05 68.62 L303.81 68.23 L304.57 67.85 L305.33 67.46 L306.10 67.08 L306.86 66.69 L307.62 66.31 L308.38 65.92 L309.14 65.53 L309.90 65.15 L310.67 64.76 L311.43 64.38 L312.19 63.99 L312.95 63.61 L313.71 63.22 L314.48 62.84 L315.24 62.45 L316.00 62.07 L316.76 61.69 L317.52 61.30 L318.29 60.92 L319.05 60.54 L319.81 60.16 L320.57 59.77 L321.33 59.39 L322.10 59.01 L322.86 58.63 L323.62 58.25 L324.38 57.86 L325.14 57.48 L325.90 57.10 L326.67 56.72 L327.43 56.33 L328.19 55.95 L328.95 55.57 L329.71 55.19 L330.48 54.80 L331.24 54.42 L332.00 54.04 L332.76 53.66 L333.52 53.27 L334.29 52.89 L335.05 52.50 L335.81 52.12 L336.57 51.74 L337.33 51.35 L338.10 50.97 L338.86 50.58 L339.62 50.19 L340.38 49.81 L341.14 49.42 L341.90 49.03 L342.67 48.65 L343.43 48.26 L344.19 47.87 L344.95 47.48 L345.71 47.09 L346.48 46.70 L347.24 46.32 L348.00 45.93 L348.76 45.54 L349.52 45.15 L350.29 44.76 L351.05 44.37 L351.81 43.98 L352.57 43.59 L353.33 43.20 L354.10 42.81 L354.86 42.42 L355.62 42.03 L356.38 41.64 L357.14 41.25 L357.90 40.86 L358.67 40.47 L359.43 40.08 L360.19 39.68 L360.95 39.29 L361.71 38.90 L362.48 38.51 L363.24 38.12 L364.00 37.73 L364.00 37.73" stroke="#800080"/>
</g>
<path d="M38.50 266.50V264.20M38.50 2.50V4.80M48.50 266.50V264.20M48.50 2.50V4.80M58.50 266.50V262.70M58.50 2.50V6.30M69.50 266.50V264.20M69.50 2.50V4.80M79.50 266.50V264.20M79.50 2.50V4.80M89.50 266.50V264.20M89.50 2.50V4.80M99.50 266.50V264.20M99.50 2.50V4.80M109.50 266.50V262.70M109.50 2.50V6.30M119.50 266.50V264.20M119.50 2.50V4.80M129.50 266.50V264.20M129.50 2.50V4.80M139.50 266.50V264.20M139.50 2.50V4.80M150.50 266.50V264.20M150.50 2.50V4.80M160.50 266.50V262.70M160.50 2.50V6.30M170.50 266.50V264.20M170.50 2.50V4.80M180.50 266.50V264.20M180.50 2.50V4.80M190.50 266.50V264.20M190.50 2.50V4.80M200.50 266.50V264.20M200.50 2.50V4.80M210.50 266.50V262.70M210.50 2.50V6.30M221.50 266.50V264.20M221.50 2.50V4.80M231.50 266.50V264.20M231.50 2.50V4.80M241.50 266.50V264.20M241.50 2.50V4.80M251.50 266.50V264.20M251.50 2.50V4.80M261.50 266.50V262.70M261.50 2.50V6.30M271.50 266.50V264.20M271.50 2.50V4.80M281.50 266.50V264.20M281.50 2.50V4.80M291.50 266.50V264.20M291.50 2.50V4.80M302.50 266.50V264.20M302.50 2.50V4.80M312.50 266.50V262.70M312.50 2.50V6.30M322.50 266.50V264.20M322.50 2.50V4.80M332.50 266.50V264.20M332.50 2.50V4.80M342.50 266.50V264.20M342.50 2.50V4.80M352.50 266.50V264.20M352.50 2.50V4.80M362.50 266.50V262.70M362.50 2.50V6.30M32.50 266.70H36.10M362.50 266.70H358.90M32.50 255.48H34.80M362.50 255.48H360.20M32.50 244.27H34.80M362.50 244.27H360.20M32.50 233.06H34.80M362.50 233.06H360.20M32.50 221.84H36.10M362.50 221.84H358.90M32.50 210.62H34.80M362.50 210.62H360.20M32.50 199.41H34.80M362.50 199.41H360.20M32.50 188.19H34.80M362.50 188.19H360.20M32.50 176.98H36.10M362.50 176.98H358.90M32.50 165.76H34.80M362.50 165.76H360.20M32.50 154.55H34.80M362.50 154.55H360.20M32.50 143.33H34.80M362.50 143.33H360.20M32.50 132.12H36.10M362.50 132.12H358.90M32.50 120.90H34.80M362.50 120.90H360.20M32.50 109.69H34.80M362.50 109.69H360.20M32.50 98.47H34.80M362.50 98.47H360.20M32.50 87.26H36.10M362.50 87.26H358.90M32.50 76.04H34.80M362.50 76.04H360.20M32.50 64.83H34.80M362.50 64.83H360.20M32.50 53.61H34.80M362.50 53.61H360.20M32.50 42.40H36.10M362.50 42.40H358.90M32.50 31.18H34.80M362.50 31.18H360.20M32.50 19.97H34.80M362.50 19.97H360.20M32.50 8.75H34.80M362.50 8.75H360.20" stroke="#8a8a8a" stroke-width="0.9" fill="none"/>
<rect x="32.5" y="2.5" width="330.0" height="264.0" fill="none" stroke="#858585" stroke-width="1"/>
<g font-family="Liberation Sans, sans-serif" font-weight="bold" font-size="10.4px" fill="#000" stroke="#000" stroke-width="0.2" style="filter:grayscale(1)" text-rendering="geometricPrecision">
<text transform="translate(58.90 279.5) scale(1.06 1)" text-anchor="middle">2</text>
<text transform="translate(109.57 279.5) scale(1.06 1)" text-anchor="middle">3</text>
<text transform="translate(160.24 279.5) scale(1.06 1)" text-anchor="middle">4</text>
<text transform="translate(210.91 279.5) scale(1.06 1)" text-anchor="middle">5</text>
<text transform="translate(261.58 279.5) scale(1.06 1)" text-anchor="middle">6</text>
<text transform="translate(312.25 279.5) scale(1.06 1)" text-anchor="middle">7</text>
<text transform="translate(362.92 279.5) scale(1.06 1)" text-anchor="middle">8</text>
<text transform="translate(29.4 270.10) scale(1.06 1)" text-anchor="end">0</text>
<text transform="translate(29.4 225.24) scale(1.06 1)" text-anchor="end">2</text>
<text transform="translate(29.4 180.38) scale(1.06 1)" text-anchor="end">4</text>
<text transform="translate(29.4 135.52) scale(1.06 1)" text-anchor="end">6</text>
<text transform="translate(29.4 90.66) scale(1.06 1)" text-anchor="end">8</text>
<text transform="translate(29.4 45.80) scale(1.06 1)" text-anchor="end">10</text>
<text transform="translate(196.0 299.3) scale(1.06 1)" text-anchor="middle">r</text>
<text transform="translate(8.4 134.5) rotate(-90) scale(1.0 0.94)" text-anchor="middle" font-size="10px">l(r)</text>
</g>
<rect x="40.55" y="10.2" width="84.5" height="113.35" rx="5" ry="5" fill="#fdeae8" stroke="#000" stroke-width="1.6"/>
<g fill="none" stroke-width="2.1">
<path d="M47.3 24.1H77.8" stroke="#00ffff" stroke-dasharray="1.5 3.8 5 3.5"/>
<path d="M47.3 46.3H77.8" stroke="#ff0000" stroke-dasharray="3.1 2.7"/>
<path d="M47.3 68.1H77.8" stroke="#0000ff" stroke-dasharray="7.4 7.1"/>
<path d="M47.3 90.3H77.8" stroke="#00ff00" stroke-dasharray="11 10.8"/>
<path d="M46.5 112.2H78.5" stroke="#800080"/>
</g>
<g font-family="Liberation Sans, sans-serif" font-weight="bold" font-size="11.6px" fill="#000" stroke="#000" stroke-width="0.2" style="filter:grayscale(1)" text-rendering="geometricPrecision">
<text transform="translate(84.6 26.9) scale(1.09 1)"><tspan font-style="italic">α</tspan>=2.2</text>
<text transform="translate(84.6 49.1) scale(1.09 1)"><tspan font-style="italic">α</tspan>=2.3</text>
<text transform="translate(84.6 70.9) scale(1.09 1)"><tspan font-style="italic">α</tspan>=2.4</text>
<text transform="translate(84.6 93.1) scale(1.09 1)"><tspan font-style="italic">α</tspan>=2.5</text>
<text transform="translate(84.6 115.0) scale(1.09 1)"><tspan font-style="italic">α</tspan>=2.6</text>
</g>
</svg>
</body></html>
